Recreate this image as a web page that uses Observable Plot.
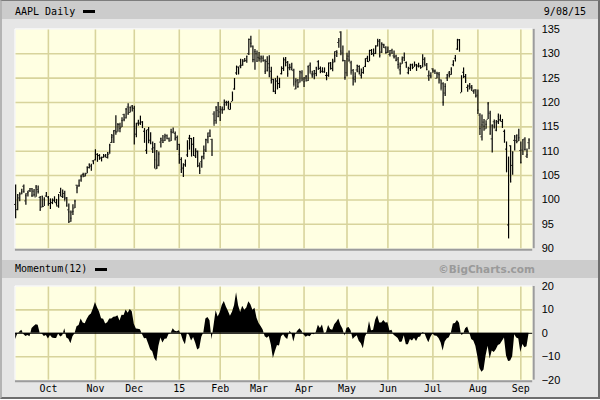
<!DOCTYPE html>
<html><head><meta charset="utf-8">
<script src="https://cdn.jsdelivr.net/npm/d3@7"></script>
<script src="https://cdn.jsdelivr.net/npm/@observablehq/plot@0.6"></script>
<style>
body{margin:0;background:#fff;}
#chart{position:relative;width:596px;height:396px;background:#e6e6e6;overflow:hidden;font-family:'DejaVu Sans Mono',monospace;border-top:1px solid #7d7d7d;border-left:2px solid #b4b4b4;border-right:2px solid #6e6e6e;border-bottom:2px solid #6e6e6e;}
.strip{position:absolute;left:0;width:596px;height:18px;background:#cccccc;}
.t{position:absolute;font-size:10px;line-height:12px;color:#000;white-space:nowrap;}
.dash{position:absolute;width:12px;height:3px;background:#000;}
.panel{position:absolute;left:-2px;}
</style></head><body>
<div id="chart">
 <div class="strip" style="top:0px"></div>
 <div class="t" style="left:13px;top:5px">AAPL Daily</div>
 <div class="dash" style="left:81px;top:9px"></div>
 <div class="t" style="right:12px;top:5px">9/08/15</div>
 <div class="strip" style="top:259px"></div>
 <div class="t" style="left:13px;top:262px">Momentum(12)</div>
 <div class="dash" style="left:93px;top:267px"></div>
 <div class="t" style="right:63px;top:262px;font-family:'DejaVu Sans';font-weight:bold;color:#9a9a9a;font-size:10.5px">©BigCharts.com</div>
 <div id="price" class="panel" style="top:-1px"></div>
 <div id="mom" class="panel" style="top:277px"></div>
</div>
<script>
// Trading-day index 0 = 9 Sep 2014 ... 251 = 8 Sep 2015
const open = [
99.08,98.01,100.41,101.21,102.81,99.80,101.27,101.93,102.29,101.80,100.60,102.16,100.51,98.53,98.65,100.81,
100.59,99.27,99.44,99.95,99.43,98.76,101.54,100.69,101.33,100.39,97.97,95.55,97.50,98.32,103.02,102.84,104.08,105.18,104.85,105.40,106.65,106.96,108.01,
108.22,109.36,109.10,108.60,108.75,109.02,108.70,109.38,111.80,113.15,114.27,113.94,115.44,114.91,117.51,116.85,119.07,117.94,119.27,
118.81,113.50,115.75,115.77,115.99,114.10,110.19,114.41,112.26,110.46,110.70,106.37,107.12,111.87,112.26,112.16,113.23,112.58,112.10,113.79,113.64,112.82,
111.39,108.29,106.54,107.20,109.23,112.67,112.60,111.43,109.04,110.00,107.03,107.84,108.95,110.26,112.30,113.74,112.42,117.63,116.32,118.40,
118.05,118.50,118.50,120.02,120.02,118.55,120.17,122.77,126.06,127.28,127.49,127.63,128.48,128.62,130.02,132.94,131.56,128.79,130.00,
129.25,128.96,129.10,128.58,128.40,127.96,126.41,124.75,122.31,124.40,123.88,125.90,127.00,128.75,128.25,127.12,127.23,126.54,122.76,124.57,124.05,126.09,
124.82,125.03,124.47,127.64,125.85,125.85,125.95,128.37,127.00,126.41,126.28,125.55,125.57,128.10,126.99,128.30,130.49,132.31,134.46,130.16,128.64,
126.10,129.50,128.15,126.56,124.77,126.68,127.39,125.60,126.15,127.41,129.07,128.38,130.69,130.00,130.07,131.60,132.60,130.34,131.86,131.23,
130.28,129.86,130.66,129.58,129.50,128.90,126.70,127.92,129.18,128.19,126.10,127.03,127.72,127.23,127.71,127.49,127.48,127.21,128.86,127.67,125.46,125.57,
126.90,126.43,124.94,125.89,124.64,123.85,121.94,125.03,126.04,125.72,127.74,129.08,130.97,132.85,121.99,126.20,125.32,123.09,123.38,123.15,122.32,122.60,
121.50,117.42,112.95,115.97,114.58,116.53,117.81,112.53,116.04,114.32,116.04,116.43,116.10,114.08,110.43,94.87,111.11,107.09,112.23,112.17,112.03,
110.15,110.23,112.49,108.97,111.75];
const high = [
103.08,101.11,101.44,102.19,103.05,101.26,101.80,102.35,102.35,102.14,102.94,102.85,100.71,100.75,100.44,101.54,
100.69,100.22,100.21,100.65,100.12,101.11,102.38,102.03,101.78,100.52,99.15,97.72,99.00,99.96,103.02,104.11,105.05,105.49,105.48,106.74,107.37,107.35,108.04,
110.30,109.49,109.30,108.79,109.32,109.33,109.75,111.43,113.45,114.19,117.28,115.69,115.74,116.86,117.57,118.77,119.75,119.10,119.40,
119.25,115.75,116.35,117.20,116.08,114.65,114.30,114.85,113.80,111.87,111.60,110.16,109.84,112.65,113.24,113.49,113.33,112.71,114.52,114.77,113.92,113.13,
111.44,108.65,107.43,108.20,112.15,113.25,112.63,112.80,110.49,110.06,107.58,108.97,111.06,112.47,113.75,114.36,112.48,118.12,119.19,120.00,
119.17,119.09,120.51,120.23,120.25,119.84,122.15,124.92,127.48,127.28,128.88,128.78,129.03,129.50,133.00,133.60,131.60,130.87,130.57,
130.28,129.52,129.56,128.75,129.37,129.57,127.22,124.77,124.90,125.40,124.95,127.32,129.16,129.25,128.40,127.85,128.04,126.82,124.88,124.70,126.40,126.49,
125.12,125.56,127.51,128.12,126.40,126.58,127.21,128.57,127.29,127.13,127.10,126.14,128.12,128.20,128.87,130.42,130.63,133.13,134.54,131.59,128.64,
130.13,130.57,128.45,126.75,126.08,127.62,127.56,126.88,127.19,128.95,129.49,130.72,130.88,130.98,131.63,132.97,132.91,132.26,131.95,131.45,
131.39,130.66,130.94,130.58,129.69,129.21,128.08,129.34,130.18,128.33,127.24,127.85,127.88,128.31,127.82,128.06,127.61,129.80,129.20,127.99,126.47,126.12,
126.94,126.69,126.23,126.15,124.64,124.06,123.85,125.76,126.37,127.15,128.57,129.62,132.97,132.92,125.50,127.09,125.74,123.61,123.91,123.50,122.57,122.64,
122.57,117.70,117.44,116.50,116.25,119.99,118.18,115.42,116.40,116.31,117.65,117.44,116.52,114.35,111.90,108.80,111.11,109.89,113.24,113.31,114.53,
111.88,112.34,112.78,110.45,112.56];
const low = [
96.14,97.76,99.62,101.08,101.44,98.89,100.59,101.56,100.50,100.58,100.54,101.20,97.72,98.40,98.63,100.53,
98.70,98.04,99.04,99.42,98.73,98.31,100.61,100.30,99.81,98.57,95.18,95.41,96.81,98.22,101.27,102.60,103.63,104.53,104.70,105.35,106.36,105.90,107.21,
108.01,107.72,108.13,107.80,108.55,108.67,108.40,109.37,111.60,111.56,113.30,113.89,113.80,114.85,116.03,116.62,117.45,117.83,118.05,
111.27,112.75,115.11,115.29,114.64,111.62,109.35,111.54,111.34,109.58,106.35,106.26,106.82,110.66,111.66,111.97,112.46,112.01,112.01,113.70,112.11,110.21,
107.35,105.41,104.63,106.70,108.70,110.21,108.80,108.91,108.50,106.66,105.20,106.50,108.27,109.72,111.53,112.80,109.03,115.31,115.56,116.85,
116.08,117.61,118.31,119.25,118.45,118.43,120.16,122.50,125.57,125.65,126.92,127.45,128.33,128.05,129.66,131.17,128.15,126.61,128.24,
128.30,128.09,128.32,125.76,126.26,125.06,123.80,122.11,121.63,122.58,122.87,125.65,126.37,127.40,125.16,126.52,126.56,123.38,122.60,122.91,124.00,124.36,
123.10,124.19,124.33,125.98,124.97,124.66,125.26,126.61,125.91,126.01,126.11,124.46,125.17,126.67,126.32,128.14,129.23,131.15,129.57,128.30,124.58,
125.30,128.26,125.78,123.36,124.02,126.11,125.63,124.82,125.87,127.16,128.21,128.36,129.64,129.34,129.83,131.40,129.12,130.05,131.10,129.90,
130.05,129.32,129.90,128.91,128.36,126.83,125.62,127.85,128.48,127.11,125.71,126.37,126.74,127.22,126.40,127.08,126.88,127.12,127.50,126.51,124.48,124.86,
125.99,125.77,124.85,123.77,122.54,119.22,121.21,124.32,125.04,125.58,127.35,128.31,130.70,130.32,121.99,124.92,123.90,122.12,122.55,122.27,121.71,120.91,
117.52,113.25,112.10,114.12,114.50,116.53,113.33,109.63,114.54,114.01,115.50,116.01,114.68,111.63,105.65,92.00,103.50,105.05,110.02,111.54,112.00,
107.36,109.13,110.04,108.51,110.32];
const close = [
97.99,101.00,101.43,101.66,101.63,100.86,101.58,101.79,100.96,101.06,102.64,101.75,97.87,100.75,100.11,100.75,
99.18,99.90,99.62,99.62,98.75,100.80,101.02,100.73,99.81,98.75,97.54,96.26,97.67,99.76,102.47,102.99,104.83,105.22,105.11,106.74,107.34,106.98,108.00,
109.40,108.60,108.86,108.70,109.01,108.83,109.70,111.25,112.82,114.18,113.99,115.47,114.67,116.31,116.47,118.63,117.60,119.00,118.93,
115.07,114.63,115.93,115.49,115.00,112.40,114.12,111.95,111.62,109.73,108.23,106.75,109.41,112.65,111.78,112.94,112.54,112.01,113.99,113.91,112.52,110.38,
109.33,106.25,106.26,107.75,111.89,112.01,109.25,110.22,109.80,106.82,105.99,108.72,109.55,112.40,112.98,113.10,109.14,115.31,118.90,117.16,
118.63,118.65,119.56,119.94,118.93,119.72,122.02,124.88,126.46,127.08,127.83,128.72,128.45,129.50,133.00,132.17,128.79,130.42,128.46,
129.09,129.36,128.54,126.41,126.60,127.14,124.51,122.24,124.45,123.59,124.95,127.04,128.47,127.50,125.90,127.21,126.69,123.38,124.24,123.25,126.37,124.43,
124.25,125.32,127.35,126.01,125.60,126.56,127.10,126.85,126.30,126.78,126.17,124.75,127.60,126.91,128.62,129.67,130.28,132.65,130.56,128.64,125.15,
128.95,128.70,125.80,125.01,125.26,127.62,126.32,125.87,126.01,128.95,128.77,130.19,130.07,130.06,131.39,132.54,129.62,132.04,131.78,130.28,
130.54,129.96,130.12,129.36,128.65,127.80,127.42,128.88,128.59,127.17,126.92,127.60,127.30,127.88,126.60,127.61,127.03,128.11,127.50,126.75,124.53,125.43,
126.60,126.44,126.00,125.69,122.57,120.07,123.28,125.66,125.61,126.82,128.51,129.62,132.07,130.75,125.16,125.22,124.50,122.77,123.38,122.99,122.37,121.30,
118.44,114.64,115.40,115.13,115.52,119.72,113.49,115.24,115.15,115.96,117.16,116.50,115.01,112.65,105.76,103.12,103.74,109.69,112.92,113.29,112.76,
107.72,112.34,110.37,109.27,112.31];
const momentum = [
-2.59,-0.32,0.54,1.31,-0.50,-1.39,-0.92,-1.51,2.02,2.94,3.67,3.39,-0.12,-0.25,-1.32,-0.91,
-2.45,-0.96,-1.96,-2.17,-2.21,-0.26,-1.62,-1.02,1.94,-2.00,-2.57,-4.49,-1.51,-0.14,2.85,3.37,6.08,4.42,4.09,6.01,7.53,8.23,10.46,
13.14,10.93,9.10,6.23,6.02,4.00,4.48,6.14,6.08,6.84,7.01,7.47,5.27,7.71,7.61,9.93,8.59,10.17,9.23,
3.82,1.81,1.75,1.50,-0.47,-2.27,-2.19,-4.52,-7.01,-7.87,-10.77,-12.18,-5.66,-1.98,-4.15,-2.55,-2.46,-0.39,-0.13,1.96,0.90,0.65,
1.10,-0.50,-3.15,-4.90,0.11,-0.93,-3.29,-1.79,-4.19,-7.09,-6.53,-1.66,0.22,6.15,6.72,5.35,-2.75,3.30,9.65,6.94,
8.83,11.83,13.57,11.22,9.38,7.32,9.04,11.78,17.32,11.77,8.93,11.56,9.82,10.85,13.44,12.23,9.86,10.70,6.44,
4.21,2.90,1.46,-1.42,-2.12,-1.31,-4.99,-10.76,-7.72,-5.20,-5.47,-1.42,-0.62,-1.86,-2.64,0.80,0.09,-3.76,-0.27,1.01,1.92,0.84,
-0.70,-1.72,-1.12,-1.49,-0.30,-0.65,0.41,3.47,2.06,3.53,-0.20,0.32,3.35,1.59,1.27,3.66,4.68,6.09,3.46,1.79,-1.15,
2.17,2.53,1.05,-2.59,-1.65,-1.00,-3.35,-4.41,-6.64,-1.61,0.13,5.04,1.12,1.36,5.59,7.53,4.36,4.42,5.46,4.41,
4.53,1.01,1.35,-0.83,-1.42,-2.26,-3.97,-3.66,-1.03,-4.87,-4.86,-2.68,-3.24,-2.08,-3.52,-1.75,-1.62,0.31,0.08,-2.13,-4.06,-1.74,
-0.32,-1.16,-1.30,-2.19,-4.03,-7.54,-3.75,-2.45,-1.89,0.07,3.98,4.19,5.47,4.31,-0.84,-0.47,1.93,2.70,0.10,-2.67,-3.24,-5.52,
-10.07,-14.98,-16.67,-15.62,-9.64,-5.50,-11.01,-7.53,-8.23,-7.03,-5.21,-4.80,-3.43,-1.99,-9.64,-12.01,-11.78,-10.03,-0.57,-1.95,-2.39,
-8.24,-4.82,-6.13,-5.74,-0.34];
const monthStart = [16,39,58,80,100,119,141,162,182,204,226,247];
const monthLabels = ["Oct","Nov","Dec","15","Feb","Mar","Apr","May","Jun","Jul","Aug","Sep"];
const priceTicks = [90,95,100,105,110,115,120,125,130,135];
const momTicks = [-20,-10,0,10,20];

const bars = close.map((c, i) => ({i, o: open[i], h: high[i], l: low[i], c}));
const mom = momentum.map((v, i) => ({i, v}));
const labelOf = new Map(monthStart.map((d, k) => [d, monthLabels[k]]));

const GRID = "#d8d49c", PANEL = "#ffffe2", EDGE = "#9c9c9c";
const xDomain = [-0.1, 252.8];

const price = Plot.plot({
  width: 600, height: 257,
  marginLeft: 15, marginRight: 66, marginTop: 29, marginBottom: 8,
  style: {background: "transparent", fontFamily: "'Liberation Sans', Arial, sans-serif", fontSize: "11px", overflow: "visible"},
  x: {domain: xDomain, axis: null},
  y: {domain: [90, 135]},
  marks: [
    Plot.frame({fill: PANEL, stroke: "none"}),
    Plot.ruleY(priceTicks.slice(1, -1), {stroke: GRID, strokeWidth: 1.6}),
    Plot.ruleX(monthStart, {stroke: GRID, strokeWidth: 1.6}),
    Plot.ruleY([135], {stroke: "#ffffff", dy: -0.5}),
    Plot.ruleX([xDomain[0]], {stroke: "#ffffff", dx: -0.5}),
    Plot.ruleY([90], {stroke: EDGE, strokeWidth: 2, dy: 1}),
    Plot.ruleX([xDomain[1]], {stroke: EDGE, strokeWidth: 2, dx: 1}),
    Plot.ruleX(bars, {x: "i", y1: "l", y2: "h", stroke: "#000", strokeWidth: 1.2}),
    Plot.ruleY(bars, {y: "o", x1: d => d.i - 0.5, x2: "i", stroke: "#111", strokeWidth: 1}),
    Plot.ruleY(bars, {y: "c", x1: "i", x2: d => d.i + 0.5, stroke: "#111", strokeWidth: 1}),
    Plot.axisY(priceTicks, {anchor: "right", tickSize: 0, tickPadding: 9, label: null})
  ]
});
document.getElementById("price").appendChild(price);

const momPlot = Plot.plot({
  width: 600, height: 123,
  marginLeft: 15, marginRight: 66, marginTop: 8, marginBottom: 21,
  style: {background: "transparent", fontFamily: "'Liberation Sans', Arial, sans-serif", fontSize: "11px", overflow: "visible"},
  x: {domain: xDomain},
  y: {domain: [-20, 20]},
  marks: [
    Plot.frame({fill: PANEL, stroke: "none"}),
    Plot.ruleY([-10, 10], {stroke: GRID, strokeWidth: 1.6}),
    Plot.ruleX(monthStart, {stroke: GRID, strokeWidth: 1.6}),
    Plot.ruleY([20], {stroke: "#ffffff", dy: -0.5}),
    Plot.ruleX([xDomain[0]], {stroke: "#ffffff", dx: -0.5}),
    Plot.ruleY([-20], {stroke: EDGE, strokeWidth: 2, dy: 1}),
    Plot.ruleX([xDomain[1]], {stroke: EDGE, strokeWidth: 2, dx: 1}),
    Plot.areaY(mom, {x: "i", y: "v", fill: "#000"}),
    Plot.ruleY([0], {stroke: "#000", strokeWidth: 1}),
    Plot.axisY(momTicks, {anchor: "right", tickSize: 0, tickPadding: 9, label: null}),
    Plot.axisX(monthStart, {anchor: "bottom", tickSize: 0, tickPadding: 5, label: null,
      tickFormat: d => labelOf.get(d), fontFamily: "'DejaVu Sans Mono', monospace", fontSize: 10})
  ]
});
document.getElementById("mom").appendChild(momPlot);
</script>
</body></html>
